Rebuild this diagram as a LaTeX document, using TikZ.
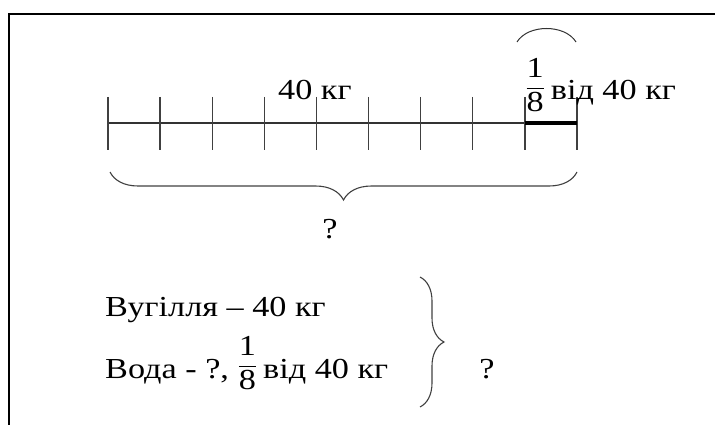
\documentclass[tikz,border=0pt]{standalone}
\usepackage{fontspec}
\setmainfont{Liberation Serif}
\usepackage{graphicx}
\usetikzlibrary{decorations.pathreplacing,calc}
\newcommand{\wtxt}[1]{\scalebox{1.18}[1]{#1}}
\newcommand{\eighth}{\raisebox{6pt}{$\displaystyle\frac{\hbox{1}}{\hbox{8}}$}}
\tikzset{
  lbl/.style={inner sep=0pt, anchor=base west, font=\fontsize{29}{34}\selectfont},
  axisline/.style={black!80, line width=1.3pt},
  tickmark/.style={black!75, line width=1.3pt},
  bracemark/.style={black!75, line width=1.1pt, decorate, decoration={brace, amplitude=#1}}
}

\begin{document}
\begin{tikzpicture}[x=1pt, y=-1pt]
  \useasboundingbox (0,0) rectangle (715,425);

  % Frame
  \draw[line width=2pt] (9,425) -- (9,14) -- (716,14);

  % Number line
  \coordinate (nl0) at (108,123);
  \coordinate (nl1) at (577,123);
  \draw[axisline] (nl0) -- (nl1);
  \foreach \i in {0,...,9}
    \draw[tickmark] ($(nl0)!\i/9!(nl1)$) +(0,-26) -- +(0,27);
  \draw[line width=4pt] ($(nl0)!8/9!(nl1)$) -- (nl1);

  % Arc over the last part
  \coordinate (a0) at (517,42);
  \coordinate (a1) at (576,42);
  \draw[black!80, line width=1pt] (a0) .. controls (528,24) and (565,24) .. (a1);

  % Labels on the line
  \node[lbl] (t40) at (278,100) {\wtxt{40 кг}};
  \node[lbl] (tfrac) at (525,100) {\wtxt{\eighth\,від 40 кг}};

  % Brace under the line
  \coordinate (b0) at (110,172);
  \coordinate (b1) at (577,172);
  \draw[bracemark=28pt] (b1) -- (b0);
  \node[lbl, anchor=base] (tq1) at (330,238) {\wtxt{?}};

  % Short record
  \node[lbl] (coal) at (105,316) {\wtxt{Вугілля – 40 кг}};
  \node[lbl] (water) at (105,378) {\wtxt{Вода - ?, \eighth\,від 40 кг}};
  \coordinate (r0) at (420,277);
  \coordinate (r1) at (420,407);
  \draw[bracemark=24pt] (r0) -- (r1);
  \node[lbl, anchor=base] (tq2) at (487,378) {\wtxt{?}};
\end{tikzpicture}
\end{document}
